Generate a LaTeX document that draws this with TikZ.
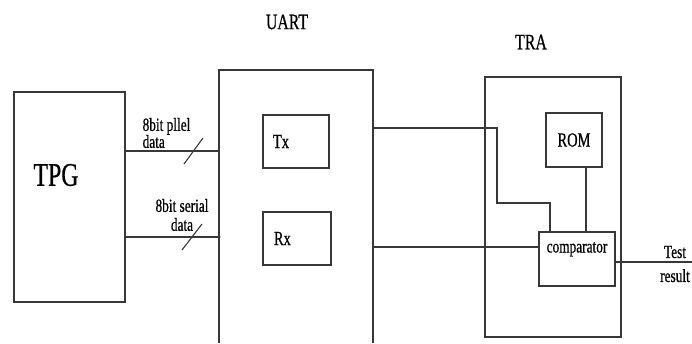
\documentclass[tikz,border=0pt]{standalone}
\usepackage{fontspec}
\setmainfont{Liberation Serif}[FakeStretch=0.72, FakeBold=0.6]
\usepackage{tikz}
\usetikzlibrary{positioning}

\begin{document}
\begin{tikzpicture}[
  x=1pt, y=-1pt,
  line width=1.2pt, draw=black!78,
  blk/.style={draw, line width=1.3pt, inner sep=0pt},
  big/.style={font=\fontsize{33}{36}\selectfont},
  ttl/.style={font=\fontsize{22}{24}\selectfont},
  mid/.style={font=\fontsize{20}{22}\selectfont},
  el/.style={font=\fontsize{18.5}{19}\selectfont, inner sep=0pt},
  wire/.style={line width=1.2pt},
  tick/.style={line width=1.1pt},
]
\useasboundingbox (0,0) rectangle (692,343);

% --- blocks ---------------------------------------------------------------
\node[blk, minimum width=111pt, minimum height=210pt] (tpg) at (69.5,197) {};
\node[big] (tpglbl) at (56,175) {TPG};

\coordinate (uartbl) at (219,343);
\coordinate (uarttl) at (219,70);
\coordinate (uarttr) at (373,70);
\coordinate (uartbr) at (373,343);
\draw[line width=1.3pt] (uartbl) -- (uarttl) -- (uarttr) -- (uartbr);
\node[ttl] (uartlbl) at (287,22) {UART};

\node[blk, mid, minimum width=66pt, minimum height=53pt, text width=46pt,
      inner xsep=10pt, align=left] (tx) at (296,141.5) {Tx};
\node[blk, mid, minimum width=68pt, minimum height=53pt, text width=46pt,
      inner xsep=11pt, align=left] (rx) at (297,238.5) {Rx};

\node[blk, minimum width=136pt, minimum height=260pt] (tra) at (553,207) {};
\node[ttl] (tralbl) at (531,42) {TRA};

\node[blk, mid, minimum width=56pt, minimum height=54pt] (rom) at (574,140) {ROM};
\node[blk, el, minimum width=76pt, minimum height=54pt, inner ysep=8pt,
      text height=12pt, text depth=25pt] (comp) at (577,259) {comparator};

% --- TPG -> UART buses ------------------------------------------------------
\coordinate (pin1) at (219,151);
\coordinate (pin2) at (219,237);
\draw[wire] (pin1 -| tpg.east) -- (pin1);
\draw[wire] (pin2 -| tpg.east) -- (pin2);
\fill[black!78] (pin2) circle (1.6pt);

\coordinate (s1) at (193.5,151);
\coordinate (s2) at (192,237);
\draw[tick] (s1) ++(-9.5,13) -- ++(19,-26);
\draw[tick] (s2) ++(-10,13) -- ++(20,-26);

\node[el, align=left] (plbl) at (166.5,133) {8bit pllel\\[-2pt]data};
\node[el, align=center] (slbl) at (182,215) {8bit serial\\[0pt]data};

% --- UART -> TRA ------------------------------------------------------------
\coordinate (out1) at (373,128);
\coordinate (out2) at (373,247);
\draw[wire] (out1) -- (497,128) -- (497,203) -- ([xshift=-27pt]comp.north |- 0,203)
            -- ([xshift=-27pt]comp.north);
\draw[wire] (out2) -- (out2 -| comp.west);
\draw[wire] ([xshift=12pt]rom.south) -- ([xshift=12pt]rom.south |- comp.north);

% --- result -----------------------------------------------------------------
\coordinate (res) at (692,262);
\draw[wire] (res -| comp.east) -- (res);
\node[el, align=center] (reslbl) at (675,264) {Test\\[5pt]result};
\end{tikzpicture}
\end{document}
